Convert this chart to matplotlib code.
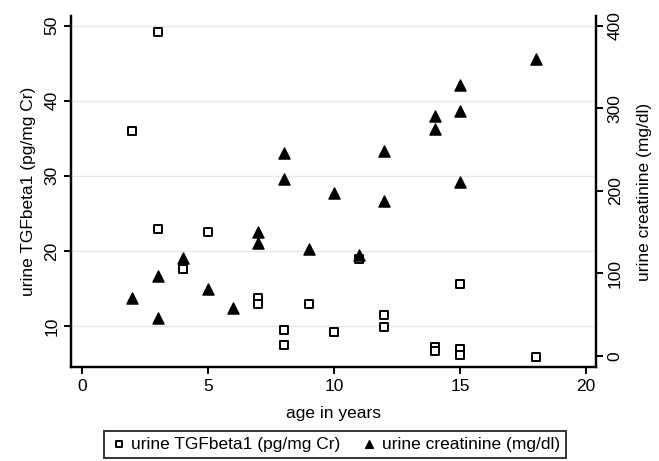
import numpy as np
import matplotlib
matplotlib.use('Agg')
import matplotlib.pyplot as plt

plt.rcParams['font.family'] = ['Liberation Sans', 'DejaVu Sans']

# urine TGFbeta1 (pg/mg Cr), left axis
tgf_age = [2, 3, 3, 4, 5, 7, 7, 8, 8, 9, 10, 11, 12, 12, 14, 14, 15, 15, 15, 18]
tgf_val = [36.0, 49.2, 22.9, 17.6, 22.5, 13.7, 12.9, 9.5, 7.5, 12.9, 9.2, 18.9,
           11.5, 9.9, 7.2, 6.7, 15.6, 6.9, 6.1, 5.9]

# urine creatinine (mg/dl), right axis
cre_age = [2, 3, 3, 4, 5, 6, 7, 7, 8, 8, 9, 10, 11, 12, 12, 14, 14, 15, 15, 15, 18]
cre_val = [70, 97, 46, 119, 81, 58, 150, 137, 246, 214, 130, 198, 122, 248, 188,
           291, 275, 328, 297, 211, 360]

left_ticks = [10, 20, 30, 40, 50]
right_ticks = [0, 100, 200, 300, 400]
x_ticks = [0, 5, 10, 15, 20]

fig = plt.figure(figsize=(6.59, 4.61), dpi=100)
ax = fig.add_axes([0.1077, 0.2039, 0.7967, 0.7614])
ax2 = ax.twinx()

for a in (ax, ax2):
    a.spines['top'].set_visible(False)
    for s in a.spines.values():
        s.set_linewidth(1.6)

ax.set_xlim(-0.44, 20.4)
ax.set_ylim(4.53, 51.3)
ax2.set_ylim(-13.3, 412)

for t in left_ticks:
    ax.axhline(t, color='#e6e6e6', lw=1.0, zorder=0)

s1 = ax.scatter(tgf_age, tgf_val, marker='s', s=32, facecolors='white',
                edgecolors='black', linewidths=1.4, zorder=3,
                label='urine TGFbeta1 (pg/mg Cr)')
s2 = ax2.scatter(cre_age, cre_val, marker='^', s=64, color='black', zorder=3,
                 label='urine creatinine (mg/dl)')

ax.set_xticks(x_ticks)
ax.set_yticks(left_ticks)
ax2.set_yticks(right_ticks)
ax.tick_params(axis='both', labelsize=12.5, width=1.4, length=5)
ax2.tick_params(axis='y', labelsize=12.5, width=1.4, length=5)
for lab in ax.get_yticklabels():
    lab.set_rotation(90)
    lab.set_va('center')
for lab in ax2.get_yticklabels():
    lab.set_rotation(90)
    lab.set_va('center')

ax.set_xlabel('age in years', fontsize=12.5, labelpad=9)
ax.set_ylabel('urine TGFbeta1 (pg/mg Cr)', fontsize=12.5, labelpad=6)
ax2.set_ylabel('urine creatinine (mg/dl)', fontsize=12.5, rotation=90,
               labelpad=10)

leg = fig.legend(handles=[s1, s2], loc='lower center',
                 bbox_to_anchor=(0.508, -0.012), ncol=2, fontsize=12.5,
                 frameon=True, fancybox=False, edgecolor='black',
                 handletextpad=0.2, columnspacing=1.2, borderpad=0.35,
                 handlelength=1.0, markerscale=0.7)
leg.get_frame().set_linewidth(1.4)

fig.savefig('out.png', dpi=100)
